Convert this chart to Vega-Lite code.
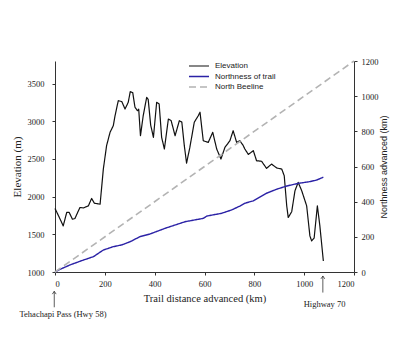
{
  "$schema": "https://vega.github.io/schema/vega-lite/v6.json",
  "autosize": {"type": "none"},
  "padding": {"left": 55, "top": 61, "right": 66, "bottom": 88},
  "width": 299,
  "height": 211,
  "background": "white",
  "config": {
    "view": {"stroke": null},
    "axis": {
      "labelFont": "Liberation Serif",
      "titleFont": "Liberation Serif",
      "labelFontSize": 8.5,
      "labelColor": "#222",
      "titleColor": "#222",
      "titleFontWeight": "normal",
      "domainColor": "#333",
      "tickColor": "#333",
      "tickSize": 3,
      "grid": false,
      "format": "d"
    },
    "legend": {
      "labelFont": "Liberation Sans",
      "labelFontSize": 8,
      "labelColor": "#222"
    }
  },
  "datasets": {
    "lines": [
      {"series": "Elevation", "km": 0, "value": 1843},
      {"series": "Elevation", "km": 15, "value": 1740},
      {"series": "Elevation", "km": 33, "value": 1612},
      {"series": "Elevation", "km": 47, "value": 1790},
      {"series": "Elevation", "km": 57, "value": 1790},
      {"series": "Elevation", "km": 70, "value": 1700},
      {"series": "Elevation", "km": 80, "value": 1710},
      {"series": "Elevation", "km": 100, "value": 1856},
      {"series": "Elevation", "km": 114, "value": 1850},
      {"series": "Elevation", "km": 134, "value": 1878},
      {"series": "Elevation", "km": 147, "value": 1976},
      {"series": "Elevation", "km": 158, "value": 1913},
      {"series": "Elevation", "km": 181, "value": 1900},
      {"series": "Elevation", "km": 194, "value": 2366},
      {"series": "Elevation", "km": 207, "value": 2676},
      {"series": "Elevation", "km": 221, "value": 2854},
      {"series": "Elevation", "km": 234, "value": 2942},
      {"series": "Elevation", "km": 241, "value": 3074},
      {"series": "Elevation", "km": 254, "value": 3274},
      {"series": "Elevation", "km": 268, "value": 3262},
      {"series": "Elevation", "km": 281, "value": 3163},
      {"series": "Elevation", "km": 294, "value": 3252},
      {"series": "Elevation", "km": 302, "value": 3394},
      {"series": "Elevation", "km": 312, "value": 3380},
      {"series": "Elevation", "km": 321, "value": 3186},
      {"series": "Elevation", "km": 331, "value": 3140},
      {"series": "Elevation", "km": 336, "value": 3160},
      {"series": "Elevation", "km": 343, "value": 2808},
      {"series": "Elevation", "km": 354, "value": 3074},
      {"series": "Elevation", "km": 368, "value": 3319},
      {"series": "Elevation", "km": 374, "value": 3290},
      {"series": "Elevation", "km": 384, "value": 2950},
      {"series": "Elevation", "km": 395, "value": 2787},
      {"series": "Elevation", "km": 408, "value": 3252},
      {"series": "Elevation", "km": 418, "value": 3230},
      {"series": "Elevation", "km": 428, "value": 2787},
      {"series": "Elevation", "km": 439, "value": 2632},
      {"series": "Elevation", "km": 455, "value": 3030},
      {"series": "Elevation", "km": 466, "value": 3010},
      {"series": "Elevation", "km": 482, "value": 2808},
      {"series": "Elevation", "km": 499, "value": 3008},
      {"series": "Elevation", "km": 509, "value": 2990},
      {"series": "Elevation", "km": 519, "value": 2676},
      {"series": "Elevation", "km": 528, "value": 2445},
      {"series": "Elevation", "km": 541, "value": 2650},
      {"series": "Elevation", "km": 559, "value": 2987},
      {"series": "Elevation", "km": 575, "value": 3074},
      {"series": "Elevation", "km": 582, "value": 3120},
      {"series": "Elevation", "km": 595, "value": 2742},
      {"series": "Elevation", "km": 615, "value": 2720},
      {"series": "Elevation", "km": 633, "value": 2854},
      {"series": "Elevation", "km": 649, "value": 2632},
      {"series": "Elevation", "km": 666, "value": 2499},
      {"series": "Elevation", "km": 682, "value": 2654},
      {"series": "Elevation", "km": 702, "value": 2742},
      {"series": "Elevation", "km": 715, "value": 2875},
      {"series": "Elevation", "km": 729, "value": 2720},
      {"series": "Elevation", "km": 742, "value": 2742},
      {"series": "Elevation", "km": 755, "value": 2680},
      {"series": "Elevation", "km": 762, "value": 2632},
      {"series": "Elevation", "km": 776, "value": 2560},
      {"series": "Elevation", "km": 796, "value": 2610},
      {"series": "Elevation", "km": 809, "value": 2476},
      {"series": "Elevation", "km": 829, "value": 2470},
      {"series": "Elevation", "km": 849, "value": 2375},
      {"series": "Elevation", "km": 869, "value": 2432},
      {"series": "Elevation", "km": 890, "value": 2380},
      {"series": "Elevation", "km": 910, "value": 2366},
      {"series": "Elevation", "km": 920, "value": 2277},
      {"series": "Elevation", "km": 930, "value": 1878},
      {"series": "Elevation", "km": 936, "value": 1723},
      {"series": "Elevation", "km": 950, "value": 1800},
      {"series": "Elevation", "km": 963, "value": 2077},
      {"series": "Elevation", "km": 976, "value": 2189},
      {"series": "Elevation", "km": 990, "value": 2080},
      {"series": "Elevation", "km": 1010, "value": 1878},
      {"series": "Elevation", "km": 1023, "value": 1479},
      {"series": "Elevation", "km": 1030, "value": 1412},
      {"series": "Elevation", "km": 1040, "value": 1450},
      {"series": "Elevation", "km": 1053, "value": 1878},
      {"series": "Elevation", "km": 1063, "value": 1612},
      {"series": "Elevation", "km": 1077, "value": 1146},
      {"series": "Northness of trail", "km": 0, "value": 0},
      {"series": "Northness of trail", "km": 20, "value": 15},
      {"series": "Northness of trail", "km": 60, "value": 40},
      {"series": "Northness of trail", "km": 114, "value": 68},
      {"series": "Northness of trail", "km": 154, "value": 87},
      {"series": "Northness of trail", "km": 194, "value": 125},
      {"series": "Northness of trail", "km": 234, "value": 144},
      {"series": "Northness of trail", "km": 268, "value": 154},
      {"series": "Northness of trail", "km": 301, "value": 172},
      {"series": "Northness of trail", "km": 341, "value": 201},
      {"series": "Northness of trail", "km": 381, "value": 216},
      {"series": "Northness of trail", "km": 441, "value": 248},
      {"series": "Northness of trail", "km": 522, "value": 286},
      {"series": "Northness of trail", "km": 595, "value": 305},
      {"series": "Northness of trail", "km": 609, "value": 318},
      {"series": "Northness of trail", "km": 669, "value": 334},
      {"series": "Northness of trail", "km": 709, "value": 353},
      {"series": "Northness of trail", "km": 742, "value": 375},
      {"series": "Northness of trail", "km": 762, "value": 391},
      {"series": "Northness of trail", "km": 796, "value": 405},
      {"series": "Northness of trail", "km": 849, "value": 448},
      {"series": "Northness of trail", "km": 890, "value": 471},
      {"series": "Northness of trail", "km": 930, "value": 489},
      {"series": "Northness of trail", "km": 976, "value": 504},
      {"series": "Northness of trail", "km": 1023, "value": 514},
      {"series": "Northness of trail", "km": 1050, "value": 523},
      {"series": "Northness of trail", "km": 1077, "value": 539},
      {"series": "North Beeline", "km": 0, "value": 0},
      {"series": "North Beeline", "km": 1200, "value": 1200}
    ],
    "notes": [
      {"label": "Tehachapi Pass (Hwy 58)", "arrowKm": -3, "textKm": 32, "arrowTop": 744, "arrowBottom": 532, "textY": 439},
      {"label": "Highway 70", "arrowKm": 1075, "textKm": 1082, "arrowTop": 947, "arrowBottom": 727, "textY": 571}
    ]
  },
  "resolve": {"scale": {"y": "independent"}},
  "layer": [
    {
      "layer": [
        {
          "data": {"name": "lines"},
          "transform": [{"filter": "datum.series === 'Elevation'"}],
          "mark": {"type": "line", "strokeJoin": "round"},
          "encoding": {
            "x": {"field": "km", "type": "quantitative",
              "scale": {"domain": [0, 1200], "nice": false},
              "axis": {"values": [0, 200, 400, 600, 800, 1000, 1200], "title": "Trail distance advanced (km)", "titleFontSize": 10.5, "labelPadding": 4, "titlePadding": 6}},
            "y": {"field": "value", "type": "quantitative",
              "scale": {"domain": [1000, 3800], "nice": false, "zero": false},
              "axis": {"orient": "left", "values": [1000, 1500, 2000, 2500, 3000, 3500], "title": "Elevation (m)", "titleFontSize": 11, "labelPadding": 8, "titlePadding": 5}},
            "color": {"field": "series", "type": "nominal",
              "scale": {"domain": ["Elevation", "Northness of trail", "North Beeline"], "range": ["#111111", "#2b22a6", "#b3b3b3"]},
              "legend": {"title": null, "orient": "none", "legendX": 138, "legendY": -1, "symbolType": "M-2,0H2", "symbolSize": 100, "rowPadding": 0.5, "labelOffset": 10}},
            "strokeDash": {"field": "series", "type": "nominal",
              "scale": {"domain": ["Elevation", "Northness of trail", "North Beeline"], "range": [[1, 0], [1, 0], [7, 4]]}},
            "strokeWidth": {"field": "series", "type": "nominal",
              "scale": {"domain": ["Elevation", "Northness of trail", "North Beeline"], "range": [1.2, 1.6, 1]}},
            "order": {"field": "km", "type": "quantitative"}
          }
        },
        {
          "data": {"name": "notes"},
          "mark": {"type": "rule", "color": "#333", "strokeWidth": 0.8},
          "encoding": {
            "x": {"field": "arrowKm", "type": "quantitative"},
            "y": {"field": "arrowTop", "type": "quantitative"},
            "y2": {"field": "arrowBottom"}
          }
        },
        {
          "data": {"name": "notes"},
          "mark": {"type": "point", "shape": "M-0.6,0.9L0,0L0.6,0.9", "filled": false, "stroke": "#333", "strokeWidth": 0.8, "size": 40, "opacity": 1},
          "encoding": {
            "x": {"field": "arrowKm", "type": "quantitative"},
            "y": {"field": "arrowTop", "type": "quantitative"}
          }
        },
        {
          "data": {"name": "notes"},
          "mark": {"type": "text", "font": "Liberation Serif", "fontSize": 8.5, "color": "#222", "align": "center", "baseline": "middle"},
          "encoding": {
            "x": {"field": "textKm", "type": "quantitative"},
            "y": {"field": "textY", "type": "quantitative"},
            "text": {"field": "label"}
          }
        }
      ]
    },
    {
      "data": {"name": "lines"},
      "transform": [{"filter": "datum.series !== 'Elevation'"}],
      "mark": {"type": "line", "strokeJoin": "round"},
      "encoding": {
        "x": {"field": "km", "type": "quantitative", "scale": {"domain": [0, 1200], "nice": false}},
        "y": {"field": "value", "type": "quantitative",
          "scale": {"domain": [0, 1200], "nice": false},
          "axis": {"orient": "right", "values": [0, 200, 400, 600, 800, 1000, 1200], "title": "Northness advanced (km)", "titleFont": "Liberation Sans", "titleFontSize": 9, "titleAngle": 270, "labelPadding": 4, "titlePadding": 10}},
        "color": {"field": "series", "type": "nominal",
          "scale": {"domain": ["Elevation", "Northness of trail", "North Beeline"], "range": ["#111111", "#2b22a6", "#b3b3b3"]}},
        "strokeDash": {"field": "series", "type": "nominal",
          "scale": {"domain": ["Elevation", "Northness of trail", "North Beeline"], "range": [[1, 0], [1, 0], [7, 4]]}},
        "strokeWidth": {"field": "series", "type": "nominal",
          "scale": {"domain": ["Elevation", "Northness of trail", "North Beeline"], "range": [1.2, 1.6, 1]}},
        "order": {"field": "km", "type": "quantitative"}
      }
    }
  ]
}
